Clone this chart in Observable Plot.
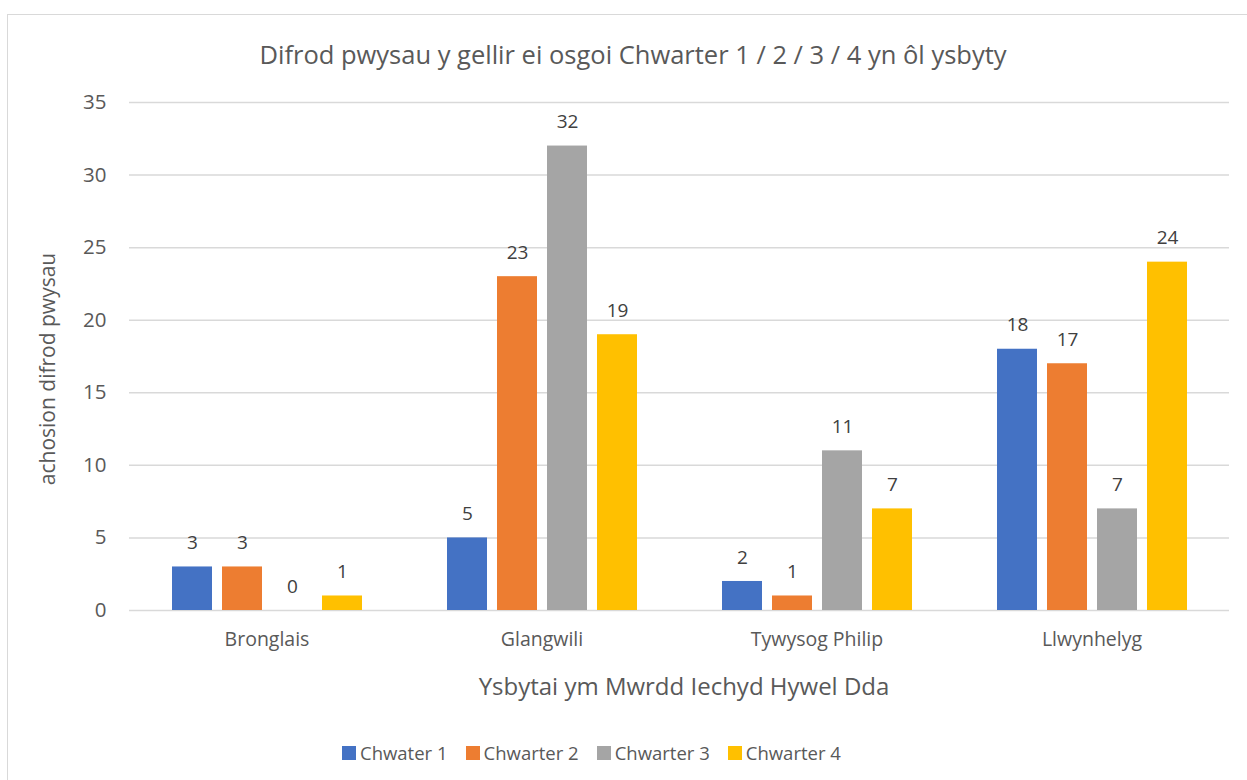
<!DOCTYPE html>
<html>
<head>
<meta charset="utf-8">
<script src="https://cdn.jsdelivr.net/npm/d3@7"></script>
<script src="https://cdn.jsdelivr.net/npm/@observablehq/plot@0.6"></script>
<style>
  html, body { margin: 0; padding: 0; background: #fff; }
  #wrap { position: relative; width: 1247px; height: 780px; overflow: hidden; font-family: "Open Sans", sans-serif; color: #595959; }
  #frame { position: absolute; left: 7px; top: 14px; width: 1400px; height: 900px; border: 1.5px solid #d9d9d9; box-sizing: border-box; }
  #title { position: absolute; left: 0; width: 1266px; top: 37px; text-align: center; font-size: 25.5px; line-height: 34px; }
  #chart { position: absolute; left: 0; top: 85px; }
  #xlabel { position: absolute; left: 0; width: 1368px; top: 670px; text-align: center; font-size: 24px; line-height: 32px; }
  #ylabel { position: absolute; left: 47px; top: 369px; transform: translate(-50%, -50%) rotate(-90deg); white-space: nowrap; font-size: 21px; line-height: 30px; }
  #legend { position: absolute; left: 342px; top: 739px; display: flex; align-items: center; font-size: 18.5px; line-height: 28px; }
  .item { display: flex; align-items: center; margin-right: 18px; }
  .sw { width: 14px; height: 14px; margin-right: 4px; }
</style>
</head>
<body>
<div id="wrap">
  <div id="frame"></div>
  <div id="title">Difrod pwysau y gellir ei osgoi Chwarter 1 / 2 / 3 / 4 yn ôl ysbyty</div>
  <div id="chart"></div>
  <div id="xlabel">Ysbytai ym Mwrdd Iechyd Hywel Dda</div>
  <div id="ylabel">achosion difrod pwysau</div>
  <div id="legend"></div>
</div>
<script>
const hospitals = ["Bronglais", "Glangwili", "Tywysog Philip", "Llwynhelyg"];
const quarters = ["Chwater 1", "Chwarter 2", "Chwarter 3", "Chwarter 4"];
const q1 = [3, 5, 2, 18];
const q2 = [3, 23, 1, 17];
const q3 = [0, 32, 11, 7];
const q4 = [1, 19, 7, 24];
const yTicks = [0, 5, 10, 15, 20, 25, 30, 35];
const colors = ["#4472C4", "#ED7D31", "#A5A5A5", "#FFC000"];

const series = [q1, q2, q3, q4];
const data = hospitals.flatMap((h, i) => quarters.map((q, j) => ({hospital: h, quarter: q, value: series[j][i]})));

const chart = Plot.plot({
  width: 1247,
  height: 630,
  marginLeft: 128,
  marginRight: 18,
  marginTop: 17,
  marginBottom: 105,
  style: {fontFamily: "'Open Sans', sans-serif", color: "#595959", background: "transparent"},
  fx: {domain: hospitals, padding: 0, label: null},
  x: {domain: quarters, paddingInner: 0.2, paddingOuter: 0.85, axis: null},
  y: {domain: [0, 35], label: null},
  color: {domain: quarters, range: colors},
  marks: [
    Plot.gridY(yTicks, {stroke: "#d9d9d9", strokeOpacity: 1, strokeWidth: 1.5}),
    Plot.barY(data, {fx: "hospital", x: "quarter", y: "value", fill: "quarter"}),
    Plot.text(data, {fx: "hospital", x: "quarter", y: "value", text: d => String(d.value), dy: -24, fontSize: 19, fill: "#404040"}),
    Plot.axisY(yTicks, {tickSize: 0, tickPadding: 23, fontSize: 20.5, label: null, fill: "#595959"}),
    Plot.axisFx({anchor: "bottom", tickSize: 0, tickPadding: 22, fontSize: 19.5, label: null, fill: "#595959"})
  ]
});
document.getElementById("chart").appendChild(chart);

const legend = document.getElementById("legend");
quarters.forEach((q, i) => {
  const it = document.createElement("div");
  it.className = "item";
  const sw = document.createElement("div");
  sw.className = "sw";
  sw.style.background = colors[i];
  const t = document.createElement("span");
  t.textContent = q;
  it.appendChild(sw);
  it.appendChild(t);
  legend.appendChild(it);
});
</script>
</body>
</html>
